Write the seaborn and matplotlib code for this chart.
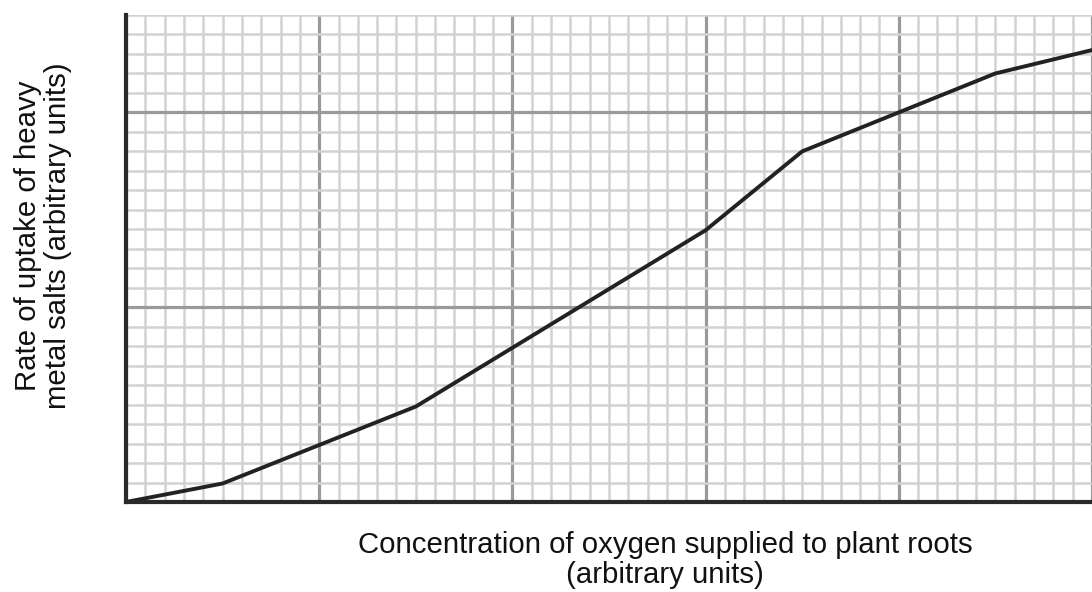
import matplotlib
matplotlib.use("Agg")
import matplotlib.pyplot as plt
import seaborn as sns
import numpy as np
import pandas as pd

oxygen = [0, 5, 15, 30, 35, 40, 45, 50]
uptake = [0, 0.95, 4.9, 13.95, 18.0, 20.0, 22.0, 23.2]

sns.set_theme(style="white")
plt.rcParams['font.family'] = ['Liberation Sans', 'DejaVu Sans']

fig = plt.figure(figsize=(10.92, 5.92), dpi=100)
ax = fig.add_axes([126/1092, 1 - 502/592, 1 - 126/1092, (502 - 15)/592])

df = pd.DataFrame({"oxygen": oxygen, "uptake": uptake})
sns.lineplot(data=df, x="oxygen", y="uptake", ax=ax, color="#222222", linewidth=2.8, zorder=5)

ax.set_xlim(0, (1092 - 126) / 19.5)
ax.set_ylim(0, 25)
ax.set_xticks(np.arange(0, 51, 10))
ax.set_xticks(np.arange(0, 50, 1), minor=True)
ax.set_yticks(np.arange(0, 26, 10))
ax.set_yticks(np.arange(0, 26, 1), minor=True)
ax.grid(which="minor", color="#d2d2d2", linewidth=1.8)
ax.grid(which="major", color="#9a9a9a", linewidth=2.3)
ax.set_axisbelow(True)
ax.tick_params(which="both", length=0, labelbottom=False, labelleft=False)

for s in ["top", "right"]:
    ax.spines[s].set_visible(False)
for s in ["left", "bottom"]:
    ax.spines[s].set_color("#2a2a2a")
    ax.spines[s].set_linewidth(3.0)
    ax.spines[s].set_zorder(6)

W = 1092 - 126
H = 502 - 15
ax.set_xlabel("Concentration of oxygen supplied to plant roots\n(arbitrary units)",
              fontsize=21.2, color="#111111", linespacing=1.05)
ax.xaxis.set_label_coords((665 - 126) / W, -(560 - 502) / H, transform=ax.transAxes)
ax.xaxis.label.set_va("center")
ax.set_ylabel("Rate of uptake of heavy\nmetal salts (arbitrary units)",
              fontsize=21.2, color="#111111", linespacing=1.05)
ax.yaxis.set_label_coords(-(126 - 43) / W, (502 - 236) / H, transform=ax.transAxes)
ax.yaxis.label.set_va("center")

fig.savefig("out.png", dpi=100, facecolor="white")
